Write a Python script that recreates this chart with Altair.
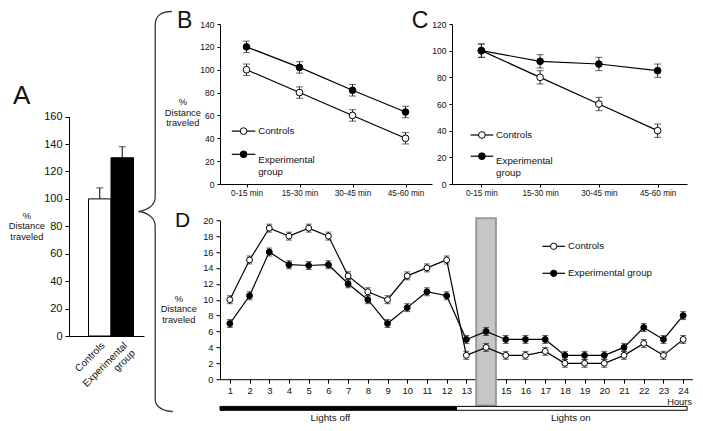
import altair as alt
import pandas as pd

FONT = "Liberation Sans"
INK = "#111111"

# ---------------- data ----------------
groups = ["Controls", "Experimental group"]
group_fill = ["white", "black"]

# Panel A
a_values = [100, 130]
a_err = [8, 8]

# Panel B / C
periods = ["0-15 min", "15-30 min", "30-45 min", "45-60 min"]
b_controls = [100, 80, 60, 40]
b_controls_err = [5, 5, 5, 5]
b_experimental = [120, 102, 82, 63]
b_experimental_err = [5, 5, 5, 5]

c_controls = [100, 80, 60, 40]
c_controls_err = [5, 5, 5, 5]
c_experimental = [100, 92, 90, 85]
c_experimental_err = [5, 5, 5, 5]

# Panel D
hours = list(range(1, 25))
d_controls = [10, 15, 19, 18, 19, 18, 13, 11, 10, 13, 14, 15,
              3, 4, 3, 3, 3.5, 2, 2, 2, 3, 4.5, 3, 5]
d_controls_err = [0.5, 0.5, 0.5, 0.5, 0.5, 0.5, 0.5, 0.5, 0.5, 0.5, 0.5, 0.5,
                  0.5, 0.5, 0.5, 0.5, 0.5, 0.5, 0.5, 0.5, 0.5, 0.5, 0.5, 0.5]
d_experimental = [7, 10.5, 16, 14.4, 14.3, 14.4, 12, 10, 7, 9, 11, 10.5,
                  5, 6, 5, 5, 5, 3, 3, 3, 4, 6.5, 5, 8]
d_experimental_err = [0.5, 0.5, 0.5, 0.5, 0.5, 0.5, 0.5, 0.5, 0.5, 0.5, 0.5, 0.5,
                      0.5, 0.5, 0.5, 0.5, 0.5, 0.5, 0.5, 0.5, 0.5, 0.5, 0.5, 0.5]
highlight_hour = 14
light_phases = ["Lights off", "Lights on"]
light_start = [0.5, 12.5]
light_end = [12.5, 24.2]
light_fill = ["black", "white"]
light_label_hour = [6.1, 18.3]

Y_TITLE = "%\nDistance\ntraveled"

BRACE = ("M 0.0835 -1 C 0.03 -1 0 -0.98 0 -0.93 L 0 -0.0725 "
         "C 0 -0.03 -0.04 -0.005 -0.0835 0 C -0.04 0.005 0 0.03 0 0.0725 "
         "L 0 0.94 C 0 0.975 0.04 1 0.088 1")


# ---------------- helpers ----------------
def series_frame(xs, ctrl, ctrl_err, exp, exp_err):
    rows = []
    for g, vals, errs in ((groups[0], ctrl, ctrl_err), (groups[1], exp, exp_err)):
        for x, v, e in zip(xs, vals, errs):
            rows.append({"x": x, "group": g, "value": v, "lo": v - e, "hi": v + e})
    return pd.DataFrame(rows)


def single(**kw):
    return pd.DataFrame([kw])


def text_mark(txt, x, y, size, align="left", baseline="alphabetic", line_height=11):
    return alt.Chart(single(t=txt)).mark_text(
        align=align, baseline=baseline, fontSize=size, font=FONT, color=INK,
        lineBreak="\n", lineHeight=line_height
    ).encode(x=alt.value(x), y=alt.value(y), text="t:N")


def legend_entry(label, fill, x0, x1, y, xt, yt, pt_size):
    seg = alt.Chart(single(k=0)).mark_rule(color="black", strokeWidth=1.2).encode(
        x=alt.value(x0), x2=alt.value(x1), y=alt.value(y))
    dot = alt.Chart(single(k=0)).mark_point(
        shape="circle", filled=True, fill=fill, stroke="black", strokeWidth=1,
        size=pt_size, opacity=1).encode(x=alt.value((x0 + x1) / 2), y=alt.value(y))
    txt = text_mark(label, xt, yt, 9.7, baseline="middle", line_height=11.5)
    return [seg, dot, txt]


def spacer(w, h):
    return alt.Chart(single(k=0)).mark_point(opacity=0).properties(width=w, height=h)


axis_common = dict(domainColor="black", tickColor="black", labelColor=INK,
                   labelFont=FONT, grid=False, title=None, domainWidth=1, tickWidth=1)


def series_layers(df, X, yscale, yaxis, pt_size, cap):
    def Y(f):
        return alt.Y(f, scale=yscale, axis=yaxis)
    base = alt.Chart(df)
    line = base.mark_line(color="black", strokeWidth=1.2).encode(
        x=X, y=Y("value:Q"), detail="group:N")
    err = base.mark_rule(color="#222222", strokeWidth=1).encode(
        x=X, y=Y("lo:Q"), y2="hi:Q")
    cap_lo = base.mark_tick(color="#222222", size=cap, thickness=1,
                            orient="horizontal").encode(x=X, y=Y("lo:Q"))
    cap_hi = base.mark_tick(color="#222222", size=cap, thickness=1,
                            orient="horizontal").encode(x=X, y=Y("hi:Q"))
    pts = base.mark_point(shape="circle", filled=True, size=pt_size, stroke="black",
                          strokeWidth=1, opacity=1).encode(
        x=X, y=Y("value:Q"),
        fill=alt.Fill("group:N", scale=alt.Scale(domain=groups, range=group_fill),
                      legend=None))
    return [line, err, cap_lo, cap_hi, pts]


# ---------------- panel A ----------------
df_a = pd.DataFrame({"group": groups, "value": a_values,
                     "hi": [v + e for v, e in zip(a_values, a_err)]})
a_yscale = alt.Scale(domain=[0, 160], range=[312, 92.6], nice=False)
a_yaxis = alt.Axis(values=list(range(0, 161, 20)), labelFontSize=11, tickSize=4,
                   labelPadding=3, **axis_common)
XA = alt.X("group:N", sort=groups,
           scale=alt.Scale(paddingInner=0, paddingOuter=0.667, align=0.65),
           axis=alt.Axis(labelAngle=-45, labelFontSize=10, ticks=False, labelPadding=4,
                         labelAlign="right", labelBaseline="top", labelLineHeight=11,
                         labelExpr="datum.value == 'Experimental group' ? ['Experimental', 'group'] : datum.label",
                         **axis_common))
a_bars = alt.Chart(df_a).mark_bar(stroke="black", strokeWidth=1).encode(
    x=XA, y=alt.Y("value:Q", scale=a_yscale, axis=a_yaxis),
    fill=alt.Fill("group:N", scale=alt.Scale(domain=groups, range=group_fill), legend=None))
a_err_rule = alt.Chart(df_a).mark_rule(color="black", strokeWidth=1).encode(
    x=XA, y=alt.Y("value:Q", scale=a_yscale, axis=a_yaxis), y2="hi:Q")
a_cap = alt.Chart(df_a).mark_tick(color="black", size=7, thickness=1,
                                  orient="horizontal").encode(
    x=XA, y=alt.Y("hi:Q", scale=a_yscale, axis=a_yaxis))
brace = alt.Chart(single(k=0)).mark_point(
    shape=BRACE, size=160000, filled=False, stroke="#3a3a3a", strokeWidth=1.3,
    opacity=1).encode(x=alt.value(86.2), y=alt.value(187.5))

panel_a = alt.layer(
    a_bars, a_err_rule, a_cap, brace,
    text_mark("A", -55.9, 80.1, 26),
    text_mark(Y_TITLE, -42.1, 191.6, 9.3, align="center", baseline="middle", line_height=10.5),
).properties(width=75, height=312)

# ---------------- panel B ----------------
bc_x_axis = alt.Axis(labelAngle=0, labelFontSize=8.2, tickSize=3, labelPadding=2, **axis_common)
XBC = alt.X("x:N", sort=periods, scale=alt.Scale(type="point", padding=0.5), axis=bc_x_axis)

df_b = series_frame(periods, b_controls, b_controls_err, b_experimental, b_experimental_err)
b_yaxis = alt.Axis(values=list(range(0, 141, 20)), labelFontSize=8.6, tickSize=3,
                   labelPadding=3, **axis_common)
panel_b = alt.layer(
    *series_layers(df_b, XBC, alt.Scale(domain=[0, 140], nice=False), b_yaxis, 45, 7),
    *legend_entry("Controls", "white", 11.8, 35.3, 107.1, 38.2, 107.1, 45),
    *legend_entry("Experimental\ngroup", "black", 11.8, 35.3, 130.3, 38.2, 136.1, 45),
    text_mark("B", -43.1, 3.9, 23),
    text_mark(Y_TITLE, -37.2, 78.2, 9.3, align="center", baseline="middle", line_height=10.5),
).properties(width=212, height=160)

# ---------------- panel C ----------------
df_c = series_frame(periods, c_controls, c_controls_err, c_experimental, c_experimental_err)
c_yaxis = alt.Axis(values=list(range(0, 121, 20)), labelFontSize=8.6, tickSize=3,
                   labelPadding=3, **axis_common)
panel_c = alt.layer(
    *series_layers(df_c, XBC, alt.Scale(domain=[0, 120], nice=False), c_yaxis, 45, 7),
    *legend_entry("Controls", "white", 18.6, 41.2, 111.0, 44.1, 111.0, 45),
    *legend_entry("Experimental\ngroup", "black", 18.6, 41.2, 132.2, 44.1, 137.0, 45),
    text_mark("C", -40.2, 3.9, 23),
).properties(width=235, height=160)

# ---------------- panel D ----------------
d_xscale = alt.Scale(domain=[0.5, 24.5], nice=False, zero=False)
d_xaxis = alt.Axis(values=hours, format="d", labelFontSize=9.5, tickSize=4,
                   labelPadding=2, **axis_common)
XD = alt.X("x:Q", scale=d_xscale, axis=d_xaxis)
df_d = series_frame(hours, d_controls, d_controls_err, d_experimental, d_experimental_err)
d_yaxis = alt.Axis(values=list(range(0, 21, 2)), labelFontSize=9.3, tickSize=4,
                   labelPadding=3, **axis_common)

highlight = alt.Chart(single(x0=highlight_hour - 0.5, x1=highlight_hour + 0.5)).mark_rect(
    fill="#c6c6c6", stroke="#9a9a9a", strokeWidth=2).encode(
    x=alt.X("x0:Q", scale=d_xscale, axis=d_xaxis), x2="x1:Q",
    y=alt.value(-1.9), y2=alt.value(185.3))

df_lights = pd.DataFrame({"phase": light_phases, "start": light_start, "end": light_end,
                          "fill": light_fill, "label_x": light_label_hour})
lights_bar = alt.Chart(df_lights).mark_rect(stroke="black", strokeWidth=1).encode(
    x=alt.X("start:Q", scale=d_xscale, axis=d_xaxis), x2="end:Q",
    y=alt.value(186.2), y2=alt.value(190.1),
    fill=alt.Fill("fill:N", scale=None))
lights_text = alt.Chart(df_lights).mark_text(
    fontSize=9.8, font=FONT, color=INK, baseline="middle").encode(
    x=alt.X("label_x:Q", scale=d_xscale, axis=d_xaxis),
    y=alt.value(197.9), text="phase:N")

panel_d = alt.layer(
    highlight, lights_bar, lights_text,
    *series_layers(df_d, XD, alt.Scale(domain=[0, 20], nice=False), d_yaxis, 35, 6),
    *legend_entry("Controls", "white", 322.4, 345.0, 26.1, 348.0, 26.1, 40),
    *legend_entry("Experimental group", "black", 322.4, 345.0, 53.1, 348.0, 53.1, 40),
    text_mark("Hours", 472, 181.5, 9.3, align="right", baseline="middle"),
    text_mark("D", -45.1, 6.8, 21),
    text_mark(Y_TITLE, -41.2, 78.6, 9.3, align="center", baseline="middle", line_height=10.5),
).properties(width=473, height=159)

# ---------------- layout ----------------
row1 = alt.hconcat(panel_a, spacer(36, 10), panel_b, panel_c, spacing=20, bounds="flush")
row2 = alt.hconcat(spacer(151, 10), panel_d, spacing=0, bounds="flush")

chart = alt.vconcat(row1, row2, spacing=196.2, bounds="flush", padding=0).configure_view(
    stroke=None)

chart.save("out.html", embed_options={"renderer": "svg", "actions": False})
